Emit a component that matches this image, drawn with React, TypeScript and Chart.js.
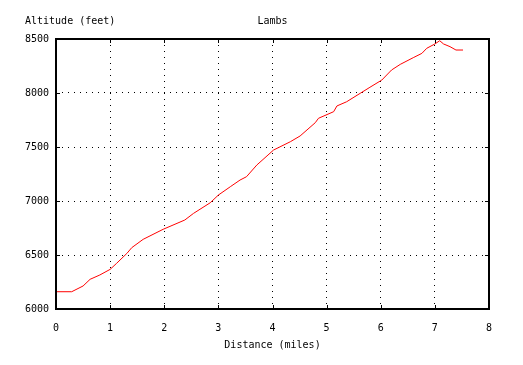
import React, { useEffect, useRef } from "react";
import { Chart, registerables } from "chart.js";

Chart.register(...registerables);

const chartTitle = "Lambs";
const xAxisTitle = "Distance (miles)";
const yAxisTitle = "Altitude (feet)";

const distanceMiles = [
  0, 0.29, 0.5, 0.63, 0.81, 1.0, 1.12, 1.31, 1.4, 1.61, 1.98, 2.38, 2.54, 2.85, 3.0,
  3.22, 3.4, 3.52, 3.71, 4.02, 4.33, 4.51, 4.79, 4.85, 5.13, 5.19, 5.37, 5.62, 5.8,
  6.02, 6.2, 6.36, 6.6, 6.76, 6.85, 7.0, 7.09, 7.16, 7.28, 7.39, 7.52,
];
const altitudeFeet = [
  6160, 6160, 6213, 6275, 6315, 6367, 6423, 6515, 6568, 6645, 6738, 6824, 6885, 6984, 7055,
  7132, 7194, 7225, 7333, 7472, 7549, 7602, 7725, 7766, 7827, 7880, 7919, 7997, 8053,
  8120, 8213, 8265, 8327, 8367, 8414, 8454, 8484, 8454, 8429, 8398, 8398,
];

const xMin = 0, xMax = 8, xStep = 1;
const yMin = 6000, yMax = 8500, yStep = 500;

const FONT = "'DejaVu Sans Mono', 'Liberation Mono', monospace";

const framePlugin = {
  id: "frame",
  afterDraw(chart: any) {
    const { ctx, chartArea } = chart;
    const { left, right, top, bottom } = chartArea;
    const xs = chart.scales.x;
    const ys = chart.scales.y;
    ctx.save();
    ctx.strokeStyle = "#000";
    ctx.lineWidth = 2;
    ctx.strokeRect(left, top, right - left, bottom - top);
    ctx.lineWidth = 1;
    ctx.beginPath();
    const tl = 4;
    for (let v = xMin; v <= xMax; v += xStep) {
      const px = Math.round(xs.getPixelForValue(v)) + 0.5;
      ctx.moveTo(px, bottom);
      ctx.lineTo(px, bottom - tl);
      ctx.moveTo(px, top);
      ctx.lineTo(px, top + tl);
    }
    for (let v = yMin; v <= yMax; v += yStep) {
      const py = Math.round(ys.getPixelForValue(v)) + 0.5;
      ctx.moveTo(left, py);
      ctx.lineTo(left + tl, py);
      ctx.moveTo(right, py);
      ctx.lineTo(right - tl, py);
    }
    ctx.stroke();
    ctx.fillStyle = "#000";
    ctx.font = "10px " + FONT;
    ctx.textBaseline = "middle";
    ctx.textAlign = "left";
    ctx.fillText(yAxisTitle, 25, 21);
    ctx.textAlign = "center";
    ctx.fillText(chartTitle, (left + right) / 2, 21);
    ctx.fillText(xAxisTitle, (left + right) / 2, bottom + 36);
    ctx.restore();
  },
};

export default function App() {
  const ref = useRef<HTMLCanvasElement>(null);
  useEffect(() => {
    const canvas = ref.current!;
    const chart = new Chart(canvas, {
      type: "line",
      data: {
        datasets: [
          {
            data: distanceMiles.map((d, i) => ({ x: d, y: altitudeFeet[i] })),
            borderColor: "#ff0000",
            borderWidth: 1,
            pointRadius: 0,
            tension: 0,
            fill: false,
          },
        ],
      },
      options: {
        animation: false,
        responsive: false,
        devicePixelRatio: 1,
        layout: { padding: { left: 0, top: 39, right: 34, bottom: 0 } },
        plugins: { legend: { display: false }, title: { display: false }, tooltip: { enabled: false } },
        scales: {
          x: {
            type: "linear",
            min: xMin,
            max: xMax,
            ticks: { stepSize: xStep, color: "#000", font: { family: FONT, size: 10 }, padding: 13, maxRotation: 0 },
            grid: { color: "#000", lineWidth: 1, drawTicks: false },
            border: { display: false, dash: [1, 5] },
            afterFit: (s: any) => { s.height = 56; },
          },
          y: {
            type: "linear",
            min: yMin,
            max: yMax,
            ticks: {
              stepSize: yStep,
              color: "#000",
              font: { family: FONT, size: 10 },
              padding: 7,
              callback: (v: any) => String(v),
            },
            grid: { color: "#000", lineWidth: 1, drawTicks: false },
            border: { display: false, dash: [1, 5] },
            afterFit: (s: any) => { s.width = 56; },
          },
        },
      },
      plugins: [framePlugin],
    });
    return () => chart.destroy();
  }, []);
  return (
    <div style={{ position: "absolute", left: 0, top: 0, width: 523, height: 365, background: "#fff" }}>
      <canvas ref={ref} width={523} height={365} />
    </div>
  );
}
